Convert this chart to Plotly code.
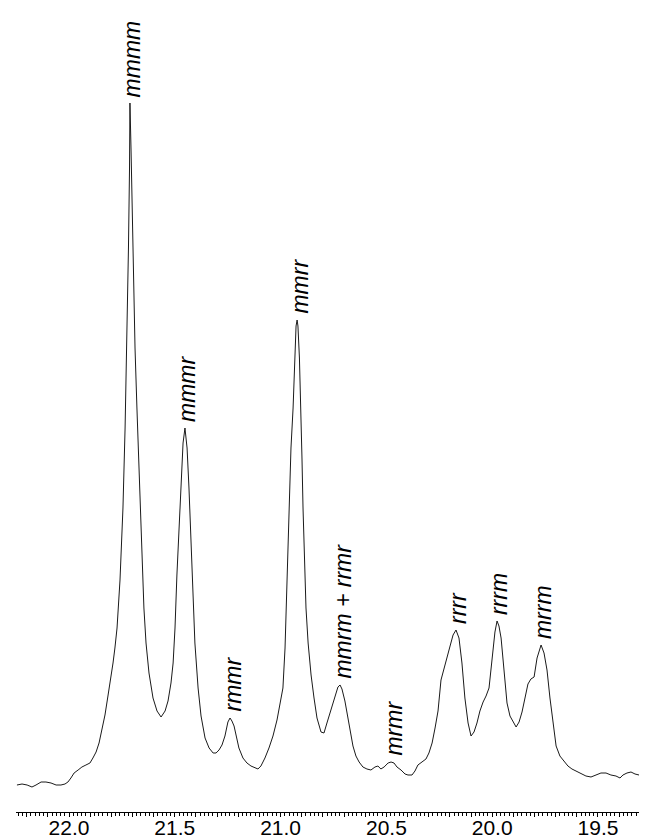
import plotly.graph_objects as go

# Chemical shift (ppm) and intensity (a.u.)
ppm = [22.246, 22.222, 22.198, 22.175, 22.156, 22.132, 22.109, 22.085, 22.061, 22.038,
       22.019, 22.005, 21.991, 21.976, 21.957, 21.939, 21.920, 21.901, 21.887, 21.872,
       21.858, 21.844, 21.830, 21.816, 21.802, 21.792, 21.783, 21.773, 21.759, 21.745,
       21.735, 21.726, 21.719, 21.714, 21.712, 21.707, 21.702, 21.695, 21.688, 21.679,
       21.672, 21.664, 21.655, 21.646, 21.636, 21.622, 21.603, 21.584, 21.565, 21.546,
       21.532, 21.518, 21.508, 21.499, 21.490, 21.480, 21.471, 21.461, 21.452, 21.442,
       21.433, 21.423, 21.414, 21.405, 21.390, 21.376, 21.357, 21.338, 21.319, 21.305,
       21.291, 21.277, 21.263, 21.249, 21.239, 21.230, 21.220, 21.211, 21.197, 21.178,
       21.159, 21.140, 21.121, 21.107, 21.093, 21.074, 21.055, 21.036, 21.017, 21.003,
       20.989, 20.979, 20.970, 20.960, 20.951, 20.941, 20.934, 20.927, 20.922, 20.918,
       20.911, 20.904, 20.899, 20.894, 20.885, 20.880, 20.870, 20.856, 20.842, 20.828,
       20.809, 20.795, 20.781, 20.767, 20.752, 20.738, 20.729, 20.719, 20.710, 20.696,
       20.681, 20.672, 20.658, 20.644, 20.629, 20.611, 20.592, 20.573, 20.554, 20.540,
       20.526, 20.511, 20.492, 20.478, 20.464, 20.450, 20.431, 20.412, 20.398, 20.379,
       20.365, 20.351, 20.332, 20.313, 20.299, 20.284, 20.270, 20.256, 20.242, 20.228,
       20.214, 20.199, 20.185, 20.171, 20.157, 20.143, 20.129, 20.114, 20.100, 20.086,
       20.072, 20.058, 20.043, 20.029, 20.015, 20.001, 19.987, 19.977, 19.968, 19.958,
       19.944, 19.930, 19.916, 19.902, 19.887, 19.873, 19.859, 19.845, 19.831, 19.817,
       19.802, 19.788, 19.769, 19.755, 19.741, 19.727, 19.713, 19.698, 19.680, 19.661,
       19.642, 19.623, 19.604, 19.580, 19.557, 19.533, 19.509, 19.486, 19.462, 19.439,
       19.415, 19.396, 19.382, 19.363, 19.344, 19.325, 19.306, 19.287, 19.268, 19.250,
       19.235]

intensity = [3, 4, 3, 1, 3, 6, 6, 5, 3, 3,
             4, 6, 10, 15, 18, 21, 23, 25, 30, 36,
             45, 58, 73, 92, 110, 125, 140, 160, 208, 280,
             360, 450, 540, 620, 685, 640, 580, 510, 440, 380,
             340, 290, 230, 180, 145, 115, 90, 77, 71, 77,
             87, 105, 125, 160, 213, 260, 310, 345, 360, 340,
             300, 250, 190, 145, 100, 72, 50, 40, 35, 35,
             38, 43, 52, 66, 70, 67, 62, 54, 40, 30,
             25, 22, 20, 19, 22, 30, 40, 52, 68, 83,
             100, 140, 200, 260, 340, 380, 430, 462, 468, 462,
             430, 380, 330, 280, 220, 180, 145, 113, 90, 70,
             56, 55, 65, 75, 85, 96, 101, 103, 99, 87,
             70, 58, 42, 32, 26, 21, 19, 18, 21, 22,
             19, 21, 25, 26, 25, 21, 18, 14, 13, 13,
             17, 23, 26, 29, 35, 45, 60, 77, 108, 120,
             130, 142, 153, 158, 150, 125, 90, 65, 52, 56,
             65, 77, 86, 92, 100, 130, 156, 167, 162, 150,
             120, 85, 72, 66, 61, 66, 76, 90, 104, 109,
             111, 130, 143, 135, 118, 90, 65, 42, 32, 27,
             22, 19, 17, 15, 12, 11, 13, 15, 15, 13,
             12, 10, 13, 15, 16, 14, 13, 14, 12, 10,
             8]

# Peak assignments
peak_labels = ["mmmm", "mmmr", "rmmr", "mmrr", "mmrm + rrmr",
               "mrmr", "rrrr", "rrrm", "mrrm"]
peak_ppm = [21.712, 21.452, 21.239, 20.922, 20.719, 20.478, 20.171, 19.977, 19.769]
peak_intensity = [685, 360, 70, 468, 103, 26, 158, 167, 143]

# Axis ticks
tick_values = [round(19.3 + 0.1 * i, 1) for i in range(30)]
tick_labels = ["22.0", "21.5", "21.0", "20.5", "20.0", "19.5"]
tick_text = [f"{v:.1f}" if f"{v:.1f}" in tick_labels else "" for v in tick_values]

fig = go.Figure()
fig.add_trace(go.Scatter(
    x=ppm, y=intensity, mode="lines",
    line=dict(color="#1a1a1a", width=1),
    showlegend=False, hoverinfo="skip",
))

for lab, px, py in zip(peak_labels, peak_ppm, peak_intensity):
    fig.add_annotation(
        x=px, y=py, text=f"<i>{lab}</i>", showarrow=False,
        textangle=-90, xanchor="center", yanchor="bottom",
        xshift=2, yshift=4,
        font=dict(family="Liberation Sans, Arial, sans-serif", size=23, color="black"),
    )

fig.update_layout(
    width=647, height=840,
    margin=dict(l=8, r=1, t=0, b=36),
    paper_bgcolor="white", plot_bgcolor="white",
    font=dict(family="Liberation Sans, Arial, sans-serif", color="black"),
    xaxis=dict(
        range=[22.2505, 19.2353],
        showline=True, linecolor="black", linewidth=1,
        showgrid=False, zeroline=False,
        tickmode="array", tickvals=tick_values, ticktext=tick_text,
        ticks="outside", ticklen=4, tickwidth=1, tickcolor="black",
        tickfont=dict(size=21, color="black"),
        ticklabelstandoff=-7,
        minor=dict(dtick=0.02, tick0=19.3, ticks="outside", ticklen=3,
                   tickwidth=1, tickcolor="black", showgrid=False),
    ),
    yaxis=dict(range=[-24, 780], visible=False, showgrid=False, zeroline=False),
)

fig.write_html("out.html")
